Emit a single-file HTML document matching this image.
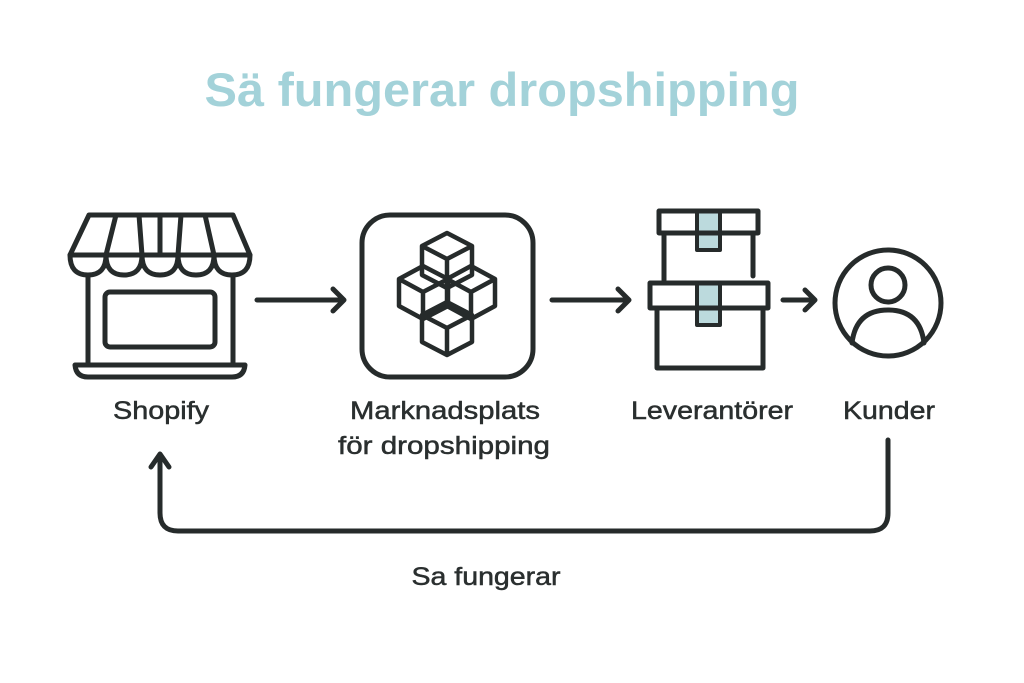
<!DOCTYPE html>
<html><head><meta charset="utf-8"><style>
html,body{margin:0;padding:0;background:#fff;}
svg{display:block;}
text{font-family:"Liberation Sans",sans-serif;}
</style></head><body>
<svg width="1024" height="683" viewBox="0 0 1024 683" xmlns="http://www.w3.org/2000/svg">
<rect width="1024" height="683" fill="#fff"/>
<text x="502" y="106" text-anchor="middle" font-size="47" font-weight="bold" fill="#a3d2d9" textLength="595" lengthAdjust="spacingAndGlyphs">Sä fungerar dropshipping</text>

<g fill="none" stroke="#262b2b" stroke-width="5" stroke-linecap="round" stroke-linejoin="round">
<!-- store -->
<path d="M89 215 H233 L250 255 H70 Z"/>
<path d="M70 255 Q70 275 88 275 Q106 275 106 255 Q106 275 124 275 Q142 275 142 255 Q142 275 160 275 Q178 275 178 255 Q178 275 196 275 Q214 275 214 255 Q214 275 232 275 Q250 275 250 255"/>
<path d="M116 215 L106 255 M139 215 L142 255 M160 215 L160 255 M181 215 L178 255 M205 215 L214 255"/>
<path d="M88 275 V365 M233 275 V365"/>
<rect x="105" y="292" width="110" height="55" rx="5"/>
<path d="M75 365 H245 Q244 377 232 377 H88 Q76 377 75 365 Z"/>
<!-- arrow1 -->
<path d="M257 300 H343 M333 289 L344 300 L333 311"/>
<!-- market -->
<rect x="362" y="215" width="171" height="162" rx="28"/>
<!-- cubes -->
<g stroke-width="4.5">
<path d="M447 233 L472 246 L472 275 L447 288 L422 275 L422 246 Z M422 246 L447 259 L472 246 M447 259 V288"/>
<path d="M423 266 L448 279 L448 306 L423 319 L399 306 L399 279 Z M399 279 L423 292 L448 279 M423 292 V319"/>
<path d="M471 266 L495 279 L495 306 L471 319 L447 306 L447 279 Z M447 279 L471 292 L495 279 M471 292 V319"/>
<path d="M447 302 L472 315 L472 342 L447 355 L422 342 L422 315 Z M422 315 L447 328 L472 315 M447 328 V355"/>
</g>
<!-- arrow2 -->
<path d="M552 300 H628 M618 289 L629 300 L618 311"/>
<!-- boxes -->
<rect x="697" y="211" width="23" height="39" fill="#bcdadd" stroke-width="4"/>
<rect x="659" y="211" width="99" height="22"/>
<path d="M664 233 V280 M753 233 V276"/>
<rect x="697" y="283" width="23" height="42" fill="#bcdadd" stroke-width="4"/>
<rect x="650" y="283" width="118" height="25"/>
<path d="M697 283 V308 M720 283 V308" stroke-width="4"/>
<path d="M657 308 V368 H763 V308"/>
<!-- arrow3 -->
<path d="M783 300 H814 M805 290 L815 300 L805 310"/>
<!-- person -->
<circle cx="888" cy="303" r="53"/>
<circle cx="888" cy="285" r="17"/>
<path d="M852 343 Q856 310 888 310 Q920 310 924 343"/>
<!-- loop -->
<path d="M888 440 V513 Q888 531 870 531 H178 Q160 531 160 513 V456"/>
<path d="M151 467 L160 454 L169 467"/>
</g>

<g fill="#2a2f2f" font-size="25" stroke="#2a2f2f" stroke-width="0.5">
<text x="161" y="419" text-anchor="middle" textLength="96" lengthAdjust="spacingAndGlyphs">Shopify</text>
<text x="445" y="419" text-anchor="middle" textLength="190" lengthAdjust="spacingAndGlyphs">Marknadsplats</text>
<text x="444" y="454" text-anchor="middle" textLength="212" lengthAdjust="spacingAndGlyphs">för dropshipping</text>
<text x="712" y="419" text-anchor="middle" textLength="162" lengthAdjust="spacingAndGlyphs">Leverantörer</text>
<text x="889" y="419" text-anchor="middle" textLength="92" lengthAdjust="spacingAndGlyphs">Kunder</text>
<text x="486" y="585" text-anchor="middle" textLength="149" lengthAdjust="spacingAndGlyphs">Sa fungerar</text>
</g>
</svg>
</body></html>
